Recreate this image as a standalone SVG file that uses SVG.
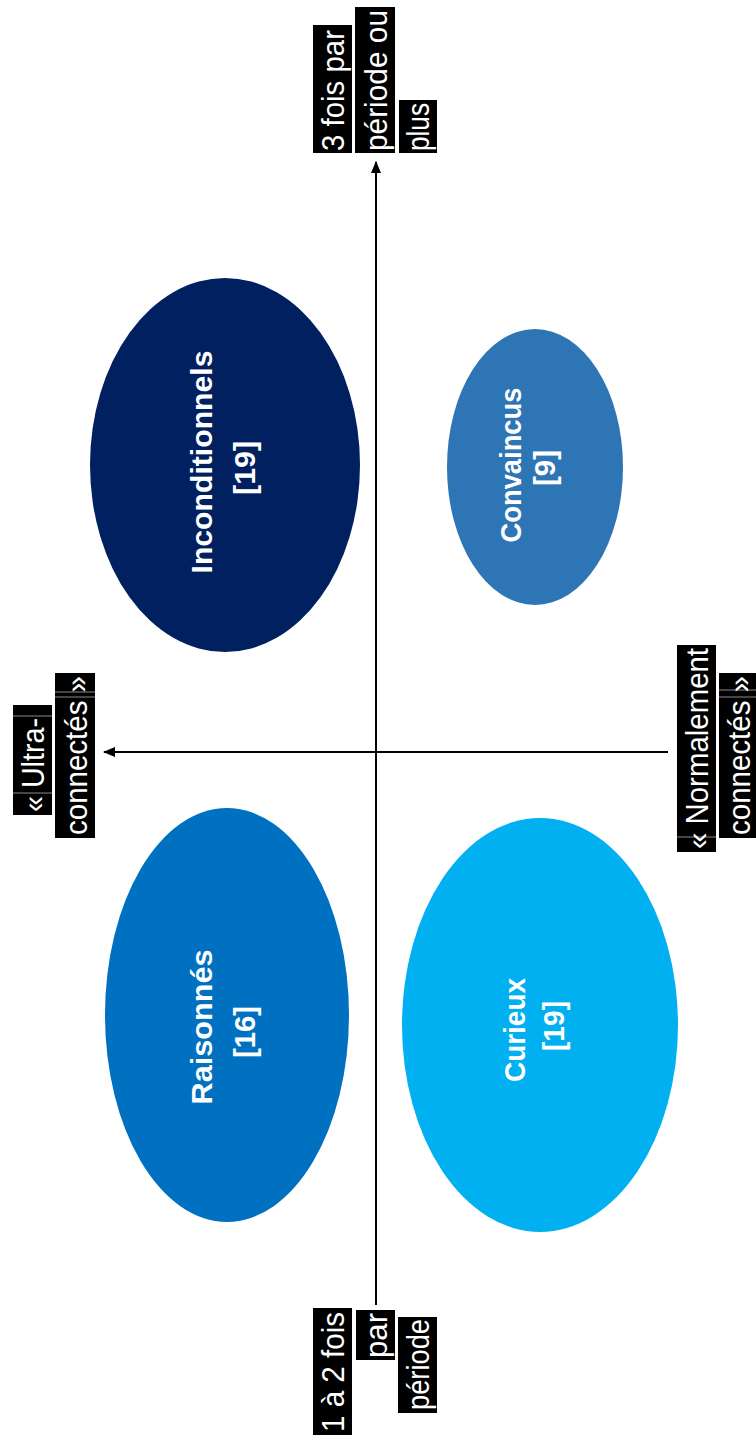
<svg xmlns="http://www.w3.org/2000/svg" width="756" height="1444" viewBox="0 0 756 1444">
<style>
.lbl{font-family:"Liberation Sans",Arial,sans-serif;font-size:32px;fill:#fff}
.box{fill:#000}
.sep{stroke:#8a8a8a;stroke-width:1}
.nt{font-family:"Liberation Sans",Arial,sans-serif;font-size:30px;font-weight:bold;fill:#fff;text-anchor:middle}
.axis{stroke:#000;stroke-width:2;fill:none}
</style>
<defs>
<marker id="arr" viewBox="0 0 12 10" refX="11" refY="5" markerWidth="12" markerHeight="10" markerUnits="userSpaceOnUse" orient="auto">
<path d="M0,0 L12,5 L0,10 z" fill="#000"/>
</marker>
</defs>
<rect width="756" height="1444" fill="#fff"/>

<g id="connectors">
<line class="axis" x1="376" y1="1305" x2="376" y2="162" marker-end="url(#arr)"/>
<line class="axis" x1="668" y1="752" x2="104" y2="752" marker-end="url(#arr)"/>
</g>

<g id="inconditionnels">
<ellipse cx="225" cy="465" rx="135" ry="187" fill="#002060"/>
<text class="nt" transform="translate(212,462) rotate(-90)" textLength="223" lengthAdjust="spacingAndGlyphs">Inconditionnels</text>
<text class="nt" transform="translate(255,468) rotate(-90)" textLength="54" lengthAdjust="spacingAndGlyphs">[19]</text>
</g>

<g id="convaincus">
<ellipse cx="535" cy="467" rx="88" ry="138" fill="#2E75B6"/>
<text class="nt" transform="translate(521,465) rotate(-90)" textLength="155" lengthAdjust="spacingAndGlyphs">Convaincus</text>
<text class="nt" transform="translate(555,468) rotate(-90)" textLength="36" lengthAdjust="spacingAndGlyphs">[9]</text>
</g>

<g id="raisonnes">
<ellipse cx="227" cy="1015" rx="122" ry="207" fill="#0070C0"/>
<text class="nt" transform="translate(212,1027) rotate(-90)" textLength="155" lengthAdjust="spacingAndGlyphs">Raisonnés</text>
<text class="nt" transform="translate(255,1032) rotate(-90)" textLength="52" lengthAdjust="spacingAndGlyphs">[16]</text>
</g>

<g id="curieux">
<ellipse cx="540" cy="1025" rx="138" ry="207" fill="#00B0F0"/>
<text class="nt" transform="translate(525,1030) rotate(-90)" textLength="104" lengthAdjust="spacingAndGlyphs">Curieux</text>
<text class="nt" transform="translate(564,1026) rotate(-90)" textLength="50" lengthAdjust="spacingAndGlyphs">[19]</text>
</g>

<g id="label-top">
<rect class="box" x="313" y="25" width="39" height="128"/>
<rect class="box" x="355" y="7" width="40" height="146"/>
<rect class="box" x="399" y="100" width="38" height="53"/>
<text class="lbl" transform="translate(344,151) rotate(-90)" textLength="121" lengthAdjust="spacingAndGlyphs">3 fois par</text>
<text class="lbl" transform="translate(387,151) rotate(-90)" textLength="141" lengthAdjust="spacingAndGlyphs">période ou</text>
<text class="lbl" transform="translate(429,151) rotate(-90)" textLength="48" lengthAdjust="spacingAndGlyphs">plus</text>
</g>

<g id="label-left">
<rect class="box" x="13" y="705" width="39" height="110"/>
<rect class="box" x="55" y="673" width="40" height="165"/>
<line class="sep" x1="13" y1="716" x2="52" y2="716"/>
<line class="sep" x1="13" y1="793" x2="52" y2="793"/>
<line class="sep" x1="55" y1="692" x2="95" y2="692"/>
<line class="sep" x1="55" y1="697" x2="95" y2="697"/>
<text class="lbl" transform="translate(44,812) rotate(-90)" textLength="94" lengthAdjust="spacingAndGlyphs">« Ultra-</text>
<text class="lbl" transform="translate(87,835) rotate(-90)" textLength="159" lengthAdjust="spacingAndGlyphs">connectés »</text>
</g>

<g id="label-right">
<rect class="box" x="677" y="645" width="39" height="207"/>
<rect class="box" x="719" y="673" width="40" height="165"/>
<line class="sep" x1="677" y1="837" x2="716" y2="837"/>
<line class="sep" x1="719" y1="690" x2="759" y2="690"/>
<line class="sep" x1="719" y1="697" x2="759" y2="697"/>
<text class="lbl" transform="translate(708,849) rotate(-90)" textLength="201" lengthAdjust="spacingAndGlyphs">« Normalement</text>
<text class="lbl" transform="translate(750,835) rotate(-90)" textLength="159" lengthAdjust="spacingAndGlyphs">connectés »</text>
</g>

<g id="label-bottom">
<rect class="box" x="313" y="1308" width="39" height="127"/>
<rect class="box" x="356" y="1310" width="39" height="50"/>
<rect class="box" x="398" y="1317" width="39" height="96"/>
<text class="lbl" transform="translate(344,1432) rotate(-90)" textLength="120" lengthAdjust="spacingAndGlyphs">1 à 2 fois</text>
<text class="lbl" transform="translate(387,1358) rotate(-90)" textLength="45" lengthAdjust="spacingAndGlyphs">par</text>
<text class="lbl" transform="translate(429,1410) rotate(-90)" textLength="91" lengthAdjust="spacingAndGlyphs">période</text>
</g>
</svg>
